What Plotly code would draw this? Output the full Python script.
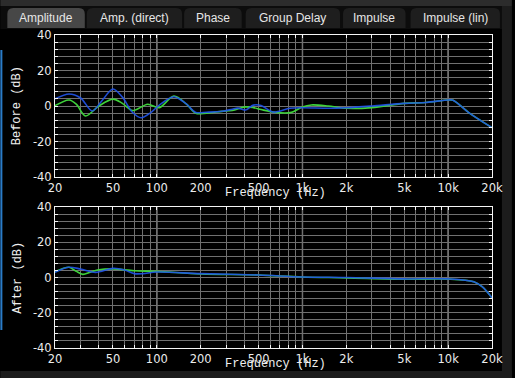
import plotly.graph_objects as go
from plotly.subplots import make_subplots

# ---------------- data ----------------
before_blue_f = [20, 25, 30, 36, 42, 50, 58, 68, 78, 90, 104, 131, 160, 185, 220, 280, 330, 360, 405, 460, 520, 630, 820, 1000, 1500, 2000, 3000, 5000, 7000, 10000, 10800, 14000, 20000]
before_blue_db = [4, 6.8, 4.5, -2.8, 3, 9.6, 5, -3.5, -6.6, -4, 0.5, 5.2, 1, -3.6, -3.5, -3, -1.8, -1.2, -2.3, 0.5, 0.3, -3.4, -1.3, -1, -1.3, -1, 0, 1.5, 2, 3.4, 3.3, -4, -12.2]

before_green_f = [20, 25, 28, 32.4, 40, 50, 58, 68.4, 86.5, 104, 131, 160, 185, 220, 280, 330, 405, 460, 520, 650, 840, 1000, 1150, 1500, 2000, 3000, 5000, 7000, 10000, 10800, 14000, 20000]
before_green_db = [0.2, 3.4, 1, -5.6, 0, 3.9, 1.5, -2.6, 1, -0.9, 5.6, 1, -4.1, -4, -3, -2.5, -0.5, -0.9, -2, -3.6, -3.6, -0.5, 0.6, 0, -1.3, -0.9, 1.5, 2, 3.4, 3.2, -4, -12.2]

after_blue_f = [20, 24.7, 30, 38, 50, 60, 70, 80, 100, 200, 500, 1000, 2000, 5000, 10000, 15000, 17100, 20000]
after_blue_db = [2.9, 5.8, 4.8, 2.9, 5.2, 4.3, 2.2, 2.2, 3.1, 2.2, 1.4, 0.3, 0, -0.8, -0.8, -2.4, -5.2, -11.5]

after_green_f = [20, 25, 28, 31, 35, 40, 50, 70, 100, 200, 500, 1000, 2000, 5000, 10000, 15000, 17100, 20000]
after_green_db = [3.3, 5.8, 3.5, 1.8, 3, 4.4, 4.9, 3.8, 3.5, 2, 1.4, 0.3, -0.2, -1, -0.9, -2.4, -5.2, -11.5]

grid_freqs = [20, 30, 40, 50, 60, 70, 80, 90, 100, 200, 300, 400, 500, 600, 700, 800, 900,
              1000, 2000, 3000, 4000, 5000, 6000, 7000, 8000, 9000, 10000, 20000]
label_freqs = {20: "20", 50: "50", 100: "100", 200: "200", 500: "500", 1000: "1k",
               2000: "2k", 5000: "5k", 10000: "10k", 20000: "20k"}
decade_freqs = [100, 1000, 10000]
y_ticks = list(range(-40, 41, 4))
y_labels = {-40: "-40", -20: "-20", 0: "0", 20: "20", 40: "40"}

tabs = ["Amplitude", "Amp. (direct)", "Phase", "Group Delay", "Impulse", "Impulse (lin)"]

# ---------------- figure ----------------
W, H = 515, 378
ML, MR, MT, MB = 55, 20, 35, 30
PW, PH = W - ML - MR, H - MT - MB

def px(x):
    return (x - ML) / PW

def py(y):
    return (H - MB - y) / PH

fig = make_subplots(rows=2, cols=1, vertical_spacing=0.0)
BLUE = "rgba(32,84,235,0.9)"
GREEN = "#3ed23a"

for row, (gf, gd, bf, bd) in enumerate([(before_green_f, before_green_db, before_blue_f, before_blue_db),
                                         (after_green_f, after_green_db, after_blue_f, after_blue_db)], start=1):
    fig.add_trace(go.Scatter(x=gf, y=gd, mode="lines", line=dict(color=GREEN, width=1.6, shape="spline", smoothing=0.9),
                             showlegend=False, hoverinfo="skip"), row=row, col=1)
    fig.add_trace(go.Scatter(x=bf, y=bd, mode="lines", line=dict(color=BLUE, width=1.6, shape="spline", smoothing=0.9),
                             showlegend=False, hoverinfo="skip"), row=row, col=1)

GRID = "#707070"
tick_font = dict(family="DejaVu Sans", size=11.5, color="#ececec")
xaxis_common = dict(type="log", range=[1.30103, 4.30103], tickvals=grid_freqs,
                    ticktext=[label_freqs.get(f, "") for f in grid_freqs],
                    showgrid=True, gridcolor=GRID, gridwidth=1, zeroline=False,
                    showline=True, linecolor="#f4f4f4", linewidth=1, mirror="allticks",
                    ticks="inside", ticklen=3, tickcolor="#f4f4f4", tickfont=tick_font,
                    tickangle=0, fixedrange=True)
yaxis_common = dict(range=[-40, 40], tickvals=y_ticks, ticktext=[y_labels.get(v, "") for v in y_ticks],
                    showgrid=True, gridcolor=GRID, gridwidth=1, zeroline=False,
                    showline=True, linecolor="#f4f4f4", linewidth=1, mirror="allticks",
                    ticks="inside", ticklen=3, tickcolor="#f4f4f4", tickfont=tick_font, fixedrange=True)

top_dom = [py(177), py(35)]
bot_dom = [py(348), py(207)]
fig.update_layout(
    width=W, height=H, margin=dict(l=ML, r=MR, t=MT, b=MB),
    paper_bgcolor="#000000", plot_bgcolor="#000000",
    xaxis=dict(**xaxis_common, anchor="y"),
    xaxis2=dict(**xaxis_common, anchor="y2"),
    yaxis=dict(**yaxis_common, domain=top_dom, anchor="x"),
    yaxis2=dict(**yaxis_common, domain=bot_dom, anchor="x2"),
)

shapes = []
# decade grid lines (brighter)
for ax in ["x", "x2"]:
    yr = "y domain" if ax == "x" else "y2 domain"
    for f in decade_freqs:
        shapes.append(dict(type="line", xref=ax, yref=yr, x0=f, x1=f, y0=0, y1=1,
                           line=dict(color="#b4b4b4", width=1.3), layer="below"))

# UI chrome: top strip, tab bar, tabs, side strips
shapes.append(dict(type="rect", xref="paper", yref="paper", x0=px(0), x1=px(W), y0=py(6), y1=py(0),
                   fillcolor="#2c2c2c", line=dict(width=0), layer="below"))
shapes.append(dict(type="rect", xref="paper", yref="paper", x0=px(0), x1=px(W), y0=py(29), y1=py(6),
                   fillcolor="#0c0c0c", line=dict(width=0), layer="below"))
tab_x = [(7, 85), (87, 183), (185, 243), (247, 342), (345, 408), (413, 503)]
annotations = []

def tab_path(a, b, top=8, bot=28, r=6):
    X = lambda v: f"{px(v):.5f}"
    Y = lambda v: f"{py(v):.5f}"
    return (f"M {X(a)},{Y(bot)} L {X(a)},{Y(top + r)} Q {X(a)},{Y(top)} {X(a + r)},{Y(top)} "
            f"L {X(b - r)},{Y(top)} Q {X(b)},{Y(top)} {X(b)},{Y(top + r)} L {X(b)},{Y(bot)} Z")

for i, (name, (a, b)) in enumerate(zip(tabs, tab_x)):
    shapes.append(dict(type="path", xref="paper", yref="paper", path=tab_path(a, b),
                       fillcolor="#474747" if i == 0 else "#1e1e1e", line=dict(width=0), layer="below"))
    annotations.append(dict(x=px((a + b) / 2), y=py(18), xref="paper", yref="paper", text=name,
                            showarrow=False, xanchor="center", yanchor="middle",
                            font=dict(family="Liberation Sans", size=12, color="#e6e6e6")))
shapes.append(dict(type="rect", xref="paper", yref="paper", x0=px(505), x1=px(W), y0=py(H), y1=py(6),
                   fillcolor="#1c1c1c", line=dict(width=0), layer="below"))
shapes.append(dict(type="rect", xref="paper", yref="paper", x0=px(0), x1=px(W), y0=py(H), y1=py(371),
                   fillcolor="#1c1c1c", line=dict(width=0), layer="below"))
shapes.append(dict(type="rect", xref="paper", yref="paper", x0=px(0), x1=px(2), y0=py(330), y1=py(50),
                   fillcolor="#2a7cc8", line=dict(width=0), layer="below"))

title_font = dict(family="Liberation Mono", size=12, color="#f0f0f0")
for yc in [193, 364]:
    annotations.append(dict(x=px(277), y=py(yc), xref="paper", yref="paper", text="Frequency (Hz)",
                            showarrow=False, xanchor="center", yanchor="middle", font=title_font))
for txt, yc in [("Before (dB)", 106), ("After (dB)", 277.5)]:
    annotations.append(dict(x=px(17), y=py(yc), xref="paper", yref="paper", text=txt, textangle=-90,
                            showarrow=False, xanchor="center", yanchor="middle", font=title_font))

fig.update_layout(shapes=shapes, annotations=annotations)

fig.write_html("out.html", config={"displayModeBar": False},
               post_script="document.body.style.margin='0';")
